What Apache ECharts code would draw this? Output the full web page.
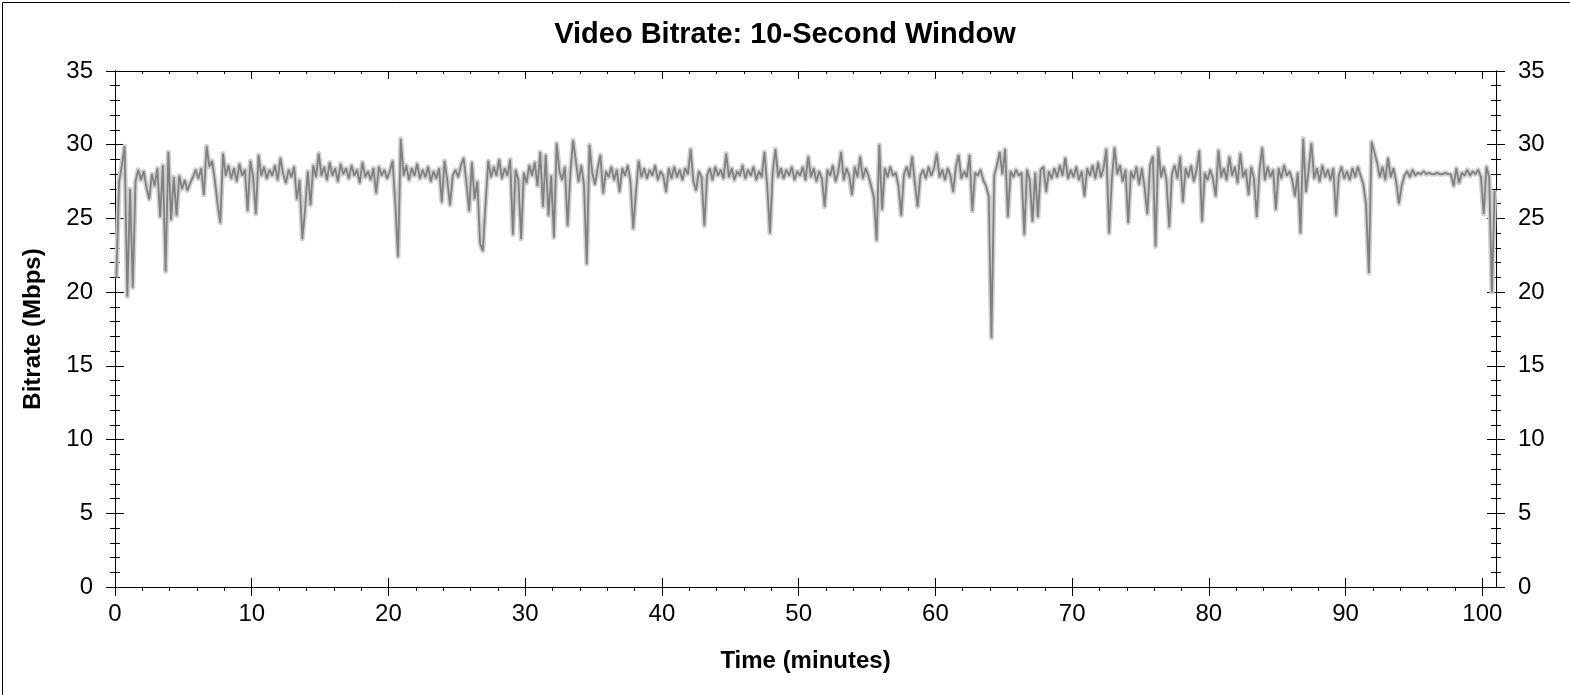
<!DOCTYPE html>
<html>
<head>
<meta charset="utf-8">
<script src="https://cdn.jsdelivr.net/npm/echarts@6/dist/echarts.min.js"></script>
<style>
html,body{margin:0;padding:0;background:#fff;}
#chart{width:1570px;height:695px;}
</style>
</head>
<body>
<div id="chart"></div>
<script>
// Sampling grid of the bitrate trace (minutes)
const START_MIN = 0.1;
const STEP_MIN = 0.2;

// Bitrate values (Mbps), one array per 10-minute block
const bitrate00 = [
  21.0, 27.5, 28.6, 29.9, 19.7, 27.0, 20.3, 27.5, 28.3, 27.6,
  28.2, 27.1, 26.3, 28.0, 27.2, 28.4, 25.1, 28.6, 21.4, 29.5,
  24.9, 27.8, 25.2, 27.9, 27.0, 27.6, 26.9, 27.4, 27.8, 28.3,
  27.7, 28.4, 26.6, 29.9, 28.5, 28.9, 27.6, 26.0, 24.7, 29.4,
  27.9, 28.6, 27.7, 28.4, 27.5, 28.7, 27.9, 28.3, 25.5, 28.9
];
const bitrate10 = [
  27.8, 25.3, 29.3, 27.9, 28.5, 27.7, 28.3, 27.9, 28.6, 27.6,
  29.1, 28.0, 27.4, 28.3, 27.8, 28.5, 26.3, 27.6, 23.6, 25.6,
  28.2, 25.9, 28.6, 27.8, 29.4, 27.9, 28.5, 27.6, 28.8, 27.9,
  28.4, 27.5, 28.7, 28.0, 28.4, 27.7, 28.6, 27.9, 28.3, 27.4,
  28.8, 27.8, 28.2, 27.6, 28.4, 26.7, 28.5, 27.9, 28.3, 27.7
];
const bitrate20 = [
  28.2, 28.9, 26.0, 22.4, 30.4, 27.9, 28.6, 27.6, 28.4, 27.9,
  28.7, 27.7, 28.3, 27.8, 28.5, 27.5, 28.2, 27.7, 28.4, 26.1,
  28.9, 27.6, 25.9, 27.9, 28.3, 27.8, 28.6, 29.1, 27.4, 25.5,
  28.8, 26.3, 27.5, 23.3, 22.8, 26.0, 28.9, 27.8, 28.5, 27.9,
  29.0, 27.7, 28.4, 27.9, 29.0, 23.9, 28.3, 27.6, 23.6, 28.1
];
const bitrate30 = [
  27.4, 28.6, 27.9, 28.8, 27.2, 29.5, 25.8, 29.3, 25.2, 27.9,
  23.7, 30.1, 28.2, 27.6, 28.5, 24.5, 28.0, 30.3, 28.9, 27.5,
  28.6, 27.3, 21.9, 30.0, 28.1, 27.3, 28.4, 29.3, 26.7, 28.2,
  27.8, 28.5, 27.6, 28.3, 26.8, 28.4, 27.9, 28.6, 27.5, 24.3,
  26.8, 28.9, 27.8, 28.4, 27.7, 28.3, 27.9, 28.6, 27.6, 28.2
];
const bitrate40 = [
  27.9, 26.8, 28.4, 27.7, 28.5, 27.8, 28.3, 27.6, 28.4, 28.0,
  29.7, 27.5, 26.9, 28.2, 27.8, 24.5, 27.9, 28.4, 27.6, 28.5,
  27.9, 28.3, 27.7, 29.4, 27.8, 28.4, 27.6, 28.2, 27.9, 28.6,
  27.7, 28.3, 27.9, 28.5, 27.6, 28.2, 27.8, 29.5, 27.2, 24.0,
  28.1, 29.7, 27.8, 28.4, 27.7, 28.3, 27.9, 28.5, 27.6, 28.2
];
const bitrate50 = [
  27.9, 28.5, 27.6, 29.2, 27.8, 28.4, 27.5, 28.2, 27.7, 25.8,
  28.3, 27.9, 28.6, 27.5, 28.2, 29.5, 27.6, 28.4, 27.9, 26.6,
  28.5, 27.8, 29.2, 27.7, 28.4, 27.9, 27.2, 26.4, 23.5, 30.0,
  25.6, 28.4, 27.8, 28.5, 27.9, 28.1, 27.2, 25.2, 28.0, 28.5,
  27.8, 29.2, 27.4, 25.8, 27.9, 28.3, 27.7, 28.5, 27.9, 28.4
];
const bitrate60 = [
  29.4, 27.8, 28.3, 27.6, 28.4, 27.9, 26.8, 28.5, 29.3, 27.7,
  28.2, 27.8, 29.3, 25.5, 28.1, 27.9, 28.3, 27.6, 27.2, 26.5,
  16.9, 27.9, 28.6, 29.5, 28.0, 29.7, 25.1, 28.2, 27.8, 28.3,
  27.9, 28.1, 23.9, 28.3, 27.6, 24.8, 28.1, 25.1, 28.3, 28.5,
  26.8, 28.2, 27.7, 28.4, 27.8, 28.6, 27.9, 29.1, 27.7, 28.3
];
const bitrate70 = [
  27.8, 28.5, 27.6, 28.2, 26.5, 28.4, 27.9, 28.6, 27.7, 28.8,
  27.8, 28.4, 29.7, 24.0, 27.6, 29.8, 28.0, 28.6, 27.5, 28.3,
  24.7, 28.2, 27.7, 28.5, 27.3, 28.4, 27.1, 25.3, 28.6, 29.2,
  23.1, 29.8, 27.8, 28.5, 27.6, 24.4, 28.0, 28.6, 27.7, 29.2,
  26.1, 28.4, 27.8, 28.6, 27.5, 28.3, 29.6, 24.8, 28.1, 27.6
];
const bitrate80 = [
  28.3, 27.7, 26.5, 29.6, 27.8, 28.4, 27.6, 29.2, 27.9, 28.5,
  27.4, 29.4, 27.8, 28.3, 26.6, 28.5, 27.7, 25.1, 28.2, 29.8,
  27.6, 28.5, 27.8, 28.3, 25.6, 28.4, 27.7, 28.6, 27.9, 28.2,
  27.6, 26.5, 28.1, 24.0, 30.4, 26.8, 28.3, 30.1, 27.7, 28.4,
  27.5, 28.6, 27.8, 28.3, 27.6, 28.4, 25.2, 27.9, 28.5, 27.7
];
const bitrate90 = [
  28.2, 27.6, 28.4, 27.8, 28.5, 27.9, 27.3, 25.9, 21.3, 30.2,
  29.5, 28.8, 27.8, 28.5, 27.6, 29.1, 27.8, 28.4, 27.5, 26.0,
  27.2, 27.9, 28.2, 27.8, 28.3, 27.9, 28.1, 28.0, 28.2, 28.0,
  28.1, 28.0, 28.0, 28.1, 28.0, 28.0, 28.1, 28.0, 28.0, 27.2,
  28.4, 27.4, 28.1, 27.9, 28.3, 27.9, 28.2, 28.0, 28.3, 27.8,
  25.3, 28.5, 27.8, 20.0, 26.9
];

// Axis ticks / labels
const xMajorTicks = [0, 10, 20, 30, 40, 50, 60, 70, 80, 90, 100];
const xMinorTicks = [];
for (let i = 0; i < xMajorTicks.length - 1; i++) {
  for (let k = 1; k < 5; k++) xMinorTicks.push(xMajorTicks[i] + k * 2);
}
const X_MIN = 0, X_MAX = 101;
const Y_MIN = 0, Y_MAX = 35, Y_STEP = 5;

const allValues = [].concat(bitrate00, bitrate10, bitrate20, bitrate30, bitrate40,
  bitrate50, bitrate60, bitrate70, bitrate80, bitrate90);
const seriesData = allValues.map((v, i) => [+(START_MIN + i * STEP_MIN).toFixed(2), v]);

const FONT = "'Liberation Sans', Arial, sans-serif";
const BLACK = '#000';

function xAx(extra) {
  return Object.assign({
    type: 'value', min: X_MIN, max: X_MAX, interval: 10,
    axisLine: { show: true, onZero: false, lineStyle: { color: BLACK, width: 1 } },
    splitLine: { show: false },
    axisLabel: { show: false },
    axisTick: { show: true }
  }, extra);
}
function yAx(extra) {
  return Object.assign({
    type: 'value', min: Y_MIN, max: Y_MAX, interval: Y_STEP,
    axisLine: { show: true, onZero: false, lineStyle: { color: BLACK, width: 1 } },
    splitLine: { show: false },
    axisLabel: { show: false }
  }, extra);
}

const chart = echarts.init(document.getElementById('chart'), null, { renderer: 'canvas' });
chart.setOption({
  animation: false,
  backgroundColor: '#fff',
  title: {
    text: 'Video Bitrate: 10-Second Window',
    left: 'center', top: 20, padding: 0,
    textStyle: { fontFamily: FONT, fontSize: 29, fontWeight: 'bold', color: BLACK }
  },
  grid: { left: 115, right: 74, top: 71, bottom: 108, containLabel: false },
  xAxis: [
    xAx({
      position: 'bottom',
      name: 'Time (minutes)', nameLocation: 'middle', nameGap: 62,
      nameTextStyle: { fontFamily: FONT, fontSize: 24, fontWeight: 'bold', color: BLACK },
      axisTick: { show: true, length: 9, customValues: xMajorTicks, lineStyle: { color: BLACK } },
      axisLabel: { show: true, customValues: xMajorTicks, margin: 15,
        fontFamily: FONT, fontSize: 24, color: BLACK }
    }),
    xAx({ position: 'bottom',
      axisTick: { show: true, inside: true, length: 9, customValues: xMajorTicks, lineStyle: { color: BLACK } } }),
    xAx({ position: 'bottom',
      axisTick: { show: true, length: 4, customValues: xMinorTicks, lineStyle: { color: BLACK } } }),
    xAx({ position: 'top',
      axisTick: { show: true, inside: true, length: 8, customValues: xMajorTicks, lineStyle: { color: BLACK } } }),
    xAx({ position: 'top',
      axisTick: { show: true, inside: true, length: 3, customValues: xMinorTicks, lineStyle: { color: BLACK } } })
  ],
  yAxis: [
    yAx({
      position: 'left',
      name: 'Bitrate (Mbps)', nameLocation: 'middle', nameGap: 70, nameRotate: 90,
      nameTextStyle: { fontFamily: FONT, fontSize: 24, fontWeight: 'bold', color: BLACK },
      axisTick: { show: true, length: 9, lineStyle: { color: BLACK } },
      minorTick: { show: true, splitNumber: 5, length: 5, lineStyle: { color: BLACK } },
      axisLabel: { show: true, margin: 22, fontFamily: FONT, fontSize: 24, color: BLACK }
    }),
    yAx({ position: 'left',
      axisTick: { show: true, inside: true, length: 9, lineStyle: { color: BLACK } },
      minorTick: { show: true, splitNumber: 5, length: 5, lineStyle: { color: BLACK } } }),
    yAx({
      position: 'right',
      axisTick: { show: true, length: 9, lineStyle: { color: BLACK } },
      minorTick: { show: true, splitNumber: 5, length: 5, lineStyle: { color: BLACK } },
      axisLabel: { show: true, margin: 22, fontFamily: FONT, fontSize: 24, color: BLACK }
    }),
    yAx({ position: 'right',
      axisTick: { show: true, inside: true, length: 9, lineStyle: { color: BLACK } },
      minorTick: { show: true, splitNumber: 5, length: 5, lineStyle: { color: BLACK } } })
  ],
  series: [
    {
      name: 'envelope', type: 'line', xAxisIndex: 0, yAxisIndex: 0,
      data: seriesData, showSymbol: false, symbol: 'none', silent: true,
      lineStyle: { color: '#d0d0d0', width: 5, join: 'round' }, z: 2
    },
    {
      name: 'Bitrate', type: 'line', xAxisIndex: 0, yAxisIndex: 0,
      data: seriesData, showSymbol: false, symbol: 'none',
      lineStyle: { color: '#808080', width: 1.8 }, z: 3
    }
  ],
  graphic: [{
    type: 'rect', left: 0, top: 0, silent: true, z: 100,
    shape: { x: 0.5, y: 0.5, width: 1569, height: 694 },
    style: { fill: 'none', stroke: BLACK, lineWidth: 1 }
  }]
});
</script>
</body>
</html>
